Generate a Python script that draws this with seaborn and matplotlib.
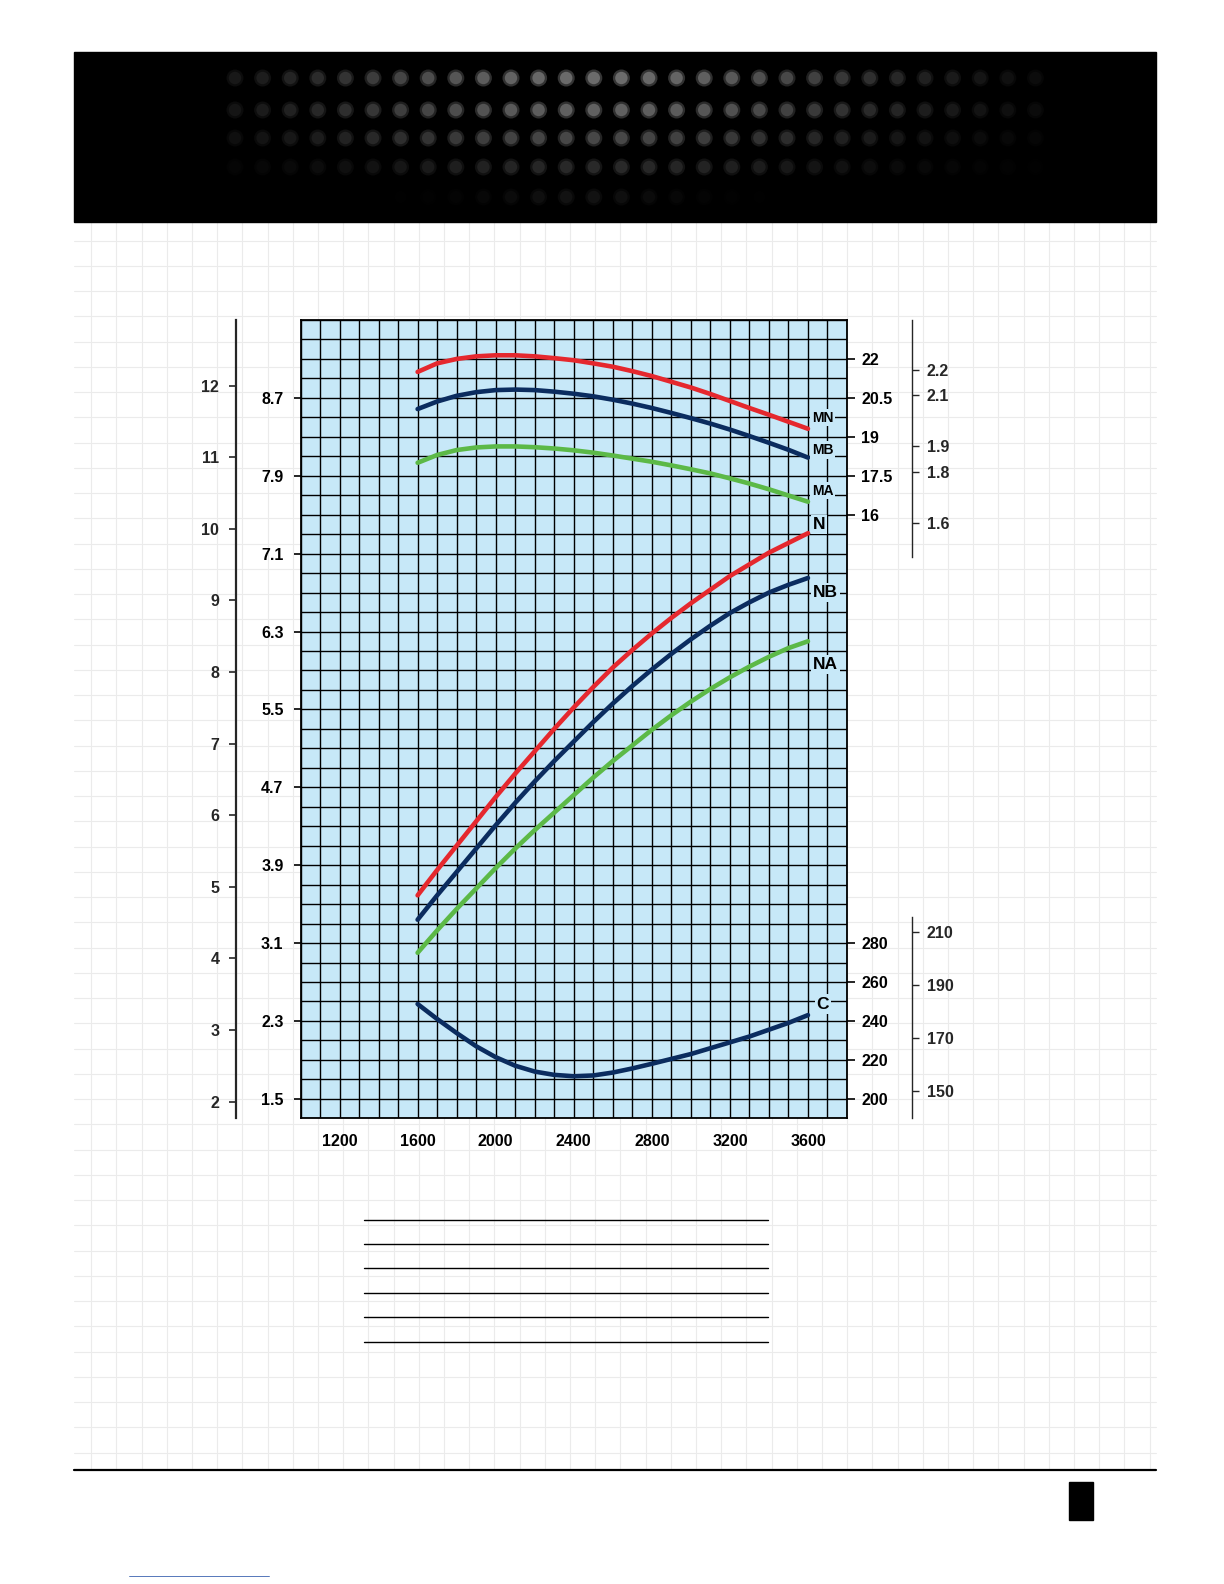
import numpy as np
import pandas as pd
import matplotlib
matplotlib.use("Agg")
import matplotlib.pyplot as plt
import seaborn as sns
from matplotlib.patches import Rectangle
from matplotlib.ticker import FixedLocator

# ---------------- data ----------------
rpm = [1600, 1700, 1800, 1900, 2000, 2100, 2200, 2300, 2400, 2500, 2600,
       2700, 2800, 2900, 3000, 3100, 3200, 3300, 3400, 3500, 3600]

# power curves (kW)
power_N = [3.59, 3.85, 4.10, 4.35, 4.60, 4.84, 5.07, 5.30, 5.52, 5.73, 5.93,
           6.11, 6.28, 6.44, 6.59, 6.73, 6.87, 6.99, 7.11, 7.21, 7.31]
power_NB = [3.34, 3.59, 3.83, 4.07, 4.31, 4.54, 4.76, 4.97, 5.17, 5.37, 5.56,
            5.74, 5.91, 6.07, 6.22, 6.36, 6.49, 6.60, 6.70, 6.78, 6.85]
power_NA = [3.00, 3.23, 3.45, 3.66, 3.87, 4.07, 4.26, 4.44, 4.62, 4.80, 4.97,
            5.13, 5.29, 5.44, 5.58, 5.71, 5.83, 5.94, 6.04, 6.13, 6.20]

# torque curves (N·m)
torque_MN = [21.50, 21.83, 22.00, 22.10, 22.14, 22.14, 22.10, 22.03, 21.95, 21.83, 21.70,
             21.53, 21.34, 21.12, 20.90, 20.65, 20.38, 20.11, 19.85, 19.58, 19.31]
torque_MB = [20.07, 20.36, 20.58, 20.72, 20.80, 20.82, 20.80, 20.74, 20.66, 20.56, 20.43,
             20.28, 20.11, 19.92, 19.72, 19.51, 19.28, 19.03, 18.77, 18.50, 18.20]
torque_MA = [18.00, 18.30, 18.49, 18.59, 18.63, 18.63, 18.60, 18.55, 18.48, 18.39, 18.28,
             18.16, 18.04, 17.90, 17.75, 17.59, 17.40, 17.20, 16.98, 16.74, 16.50]

# specific fuel consumption (g/kWh)
consumption_C = [248.7, 241.0, 233.8, 227.0, 221.4, 217.0, 214.0, 212.3, 211.6, 212.0, 213.5,
                 215.6, 218.0, 220.5, 223.0, 226.0, 229.0, 232.0, 235.5, 239.0, 243.0]

x_ticks = [1200, 1400, 1600, 1800, 2000, 2200, 2400, 2600, 2800, 3000, 3200, 3400, 3600, 3800]
x_tick_labels = ["1200", "", "1600", "", "2000", "", "2400", "", "2800", "", "3200", "", "3600", ""]
kw_ticks = [1.5, 2.3, 3.1, 3.9, 4.7, 5.5, 6.3, 7.1, 7.9, 8.7]
kw_tick_labels = ["1.5", "2.3", "3.1", "3.9", "4.7", "5.5", "6.3", "7.1", "7.9", "8.7"]
cv_ticks = [2, 3, 4, 5, 6, 7, 8, 9, 10, 11, 12]
cv_tick_labels = ["2", "3", "4", "5", "6", "7", "8", "9", "10", "11", "12"]
nm_ticks = [16, 17.5, 19, 20.5, 22]
nm_tick_labels = ["16", "17.5", "19", "20.5", "22"]
kgm_ticks = [1.6, 1.8, 1.9, 2.1, 2.2]
kgm_tick_labels = ["1.6", "1.8", "1.9", "2.1", "2.2"]
gkwh_ticks = [200, 220, 240, 260, 280]
gkwh_tick_labels = ["200", "220", "240", "260", "280"]
gcvh_ticks = [150, 170, 190, 210]
gcvh_tick_labels = ["150", "170", "190", "210"]

# unit conversions
KW_TO_CV = 1.3596
G0 = 9.80665          # N·m per kgf·m
KWH_TO_CVH = 0.7355   # g/kWh -> g/CVh

# ---------------- style ----------------
sns.set_style("white")
plt.rcParams["font.family"] = ["Liberation Sans", "DejaVu Sans"]
plt.rcParams["font.weight"] = "bold"

BLUE = "#c7e8f8"
RED = "#e5282e"
NAVY = "#0b2c5f"
GREEN = "#5cb947"
TICK_FS = 11.5

W, H = 1224, 1584
fig = plt.figure(figsize=(W / 100, H / 100), dpi=100)
fig.patch.set_facecolor("white")

# ---------------- page decoration ----------------
bg = fig.add_axes([0, 0, 1, 1])
bg.set_xlim(0, W)
bg.set_ylim(H, 0)
bg.axis("off")
bg.set_zorder(0)

# faint page grid
for xv in np.arange(91.1, 1156, 25.2):
    bg.plot([xv, xv], [222, 1468], color="#ebebeb", lw=0.8, zorder=0)
for yv in np.arange(240.7, 1468, 25.25):
    bg.plot([74, 1156], [yv, yv], color="#ebebeb", lw=0.8, zorder=0)

# black header with grille dots
bg.add_patch(Rectangle((73.5, 52), 1156 - 73.5, 221.7 - 52, color="black", zorder=2))
grille_x = np.arange(235, 1040, 27.6)
grille_rows = [(78, 0.42, 600, 210), (110, 0.38, 600, 210), (138, 0.28, 590, 200),
               (167, 0.16, 600, 180), (197, 0.07, 580, 70)]
for gy, peak, cx, sig in grille_rows:
    b = peak * np.exp(-0.5 * ((grille_x - cx) / sig) ** 2)
    cols_soft = [(v * 0.5, v * 0.5, v * 0.5) for v in b]
    cols = [(v, v, v) for v in b]
    bg.scatter(grille_x, np.full_like(grille_x, gy), s=150, c=cols_soft, marker="o",
               linewidths=0, zorder=3)
    bg.scatter(grille_x, np.full_like(grille_x, gy), s=80, c=cols, marker="o",
               linewidths=0, zorder=4)

# rule lines below the chart
for yv in [1219.5, 1243.9, 1268.3, 1292.7, 1317.1, 1341.5]:
    bg.plot([364, 768], [yv, yv], color="black", lw=1.0, zorder=2)

# footer
bg.plot([73.5, 1156], [1469.5, 1469.5], color="black", lw=1.6, zorder=2)
bg.add_patch(Rectangle((1069, 1482), 24, 38, color="black", zorder=2))
bg.plot([129, 269], [1576, 1576], color="#3a62b0", lw=0.6, zorder=2)

# ---------------- main chart ----------------
L, R, T, B = 300.5, 847.0, 320.0, 1118.3
ax = fig.add_axes([L / W, 1 - B / H, (R - L) / W, (B - T) / H])
ax.set_zorder(1)
ax.set_facecolor(BLUE)

ax_c = ax.twinx()
ax_c.set_zorder(2)
ax_t = ax.twinx()
ax_t.set_zorder(3)

df = pd.DataFrame({"rpm": rpm, "N": power_N, "NB": power_NB, "NA": power_NA,
                   "MN": torque_MN, "MB": torque_MB, "MA": torque_MA, "C": consumption_C})

line_kw = dict(linewidth=3.3, solid_capstyle="round", legend=False, errorbar=None)
sns.lineplot(data=df, x="rpm", y="N", ax=ax, color=RED, **line_kw)
sns.lineplot(data=df, x="rpm", y="NB", ax=ax, color=NAVY, **line_kw)
sns.lineplot(data=df, x="rpm", y="NA", ax=ax, color=GREEN, **line_kw)
sns.lineplot(data=df, x="rpm", y="MN", ax=ax_t, color=RED, **line_kw)
sns.lineplot(data=df, x="rpm", y="MB", ax=ax_t, color=NAVY, **line_kw)
sns.lineplot(data=df, x="rpm", y="MA", ax=ax_t, color=GREEN, **line_kw)
sns.lineplot(data=df, x="rpm", y="C", ax=ax_c, color=NAVY, **line_kw)

KW_LO, KW_HI = 1.3, 9.5


def kw_to_nm(v):
    return 20.5 + (v - 8.7) * 3.75


def kw_to_g(v):
    return 200 + (v - 1.5) * 50


ax.set_xlim(1000, 3800)
ax.set_ylim(KW_LO, KW_HI)
ax_t.set_ylim(kw_to_nm(KW_LO), kw_to_nm(KW_HI))
ax_c.set_ylim(kw_to_g(KW_LO), kw_to_g(KW_HI))

for a in (ax, ax_t, ax_c):
    a.set_xlabel("")
    a.set_ylabel("")

# grid
ax.set_xticks(x_ticks, x_tick_labels)
ax.set_yticks(kw_ticks, kw_tick_labels)
ax.xaxis.set_minor_locator(FixedLocator(np.arange(1000, 3801, 100)))
ax.yaxis.set_minor_locator(FixedLocator(np.arange(KW_LO, KW_HI + 0.01, 0.2)))
ax.grid(which="both", color="black", linewidth=1.0)
ax.set_axisbelow(True)
ax.tick_params(which="minor", length=0)
ax.tick_params(which="major", direction="out", length=5.2, width=1.2,
               labelsize=TICK_FS, colors="black")
ax.tick_params(axis="y", pad=7, right=False)
ax.tick_params(axis="x", pad=6)
for s in ax.spines.values():
    s.set_visible(True)
    s.set_linewidth(1.3)
    s.set_color("black")

for a, ticks, labels in ((ax_t, nm_ticks, nm_tick_labels), (ax_c, gkwh_ticks, gkwh_tick_labels)):
    a.set_yticks(ticks, labels)
    a.tick_params(axis="y", direction="out", length=5.5, width=1.2, pad=4.8,
                  labelsize=TICK_FS, colors="black")
    for s in a.spines.values():
        s.set_visible(False)

# outer left: CV
sec_cv = ax.secondary_yaxis(-0.118, functions=(lambda v: v * KW_TO_CV, lambda u: u / KW_TO_CV))
sec_cv.set_yticks(cv_ticks, cv_tick_labels)
sec_cv.tick_params(direction="out", length=4.8, width=1.2, pad=7.2, labelsize=TICK_FS)
sec_cv.spines["left"].set_linewidth(1.6)

# outer right top: kgm
sec_kgm = ax_t.secondary_yaxis(1.1184, functions=(lambda t: t / G0, lambda k: k * G0))
sec_kgm.set_yticks(kgm_ticks, kgm_tick_labels)
sec_kgm.tick_params(direction="out", length=5.0, width=1.0, pad=5.8, labelsize=TICK_FS)
sec_kgm.spines["right"].set_linewidth(1.0)
sec_kgm.spines["right"].set_bounds(kw_to_nm(7.069) / G0, kw_to_nm(KW_HI) / G0)

# outer right bottom: g/CVh
sec_gcv = ax_c.secondary_yaxis(1.1184, functions=(lambda g: g * KWH_TO_CVH, lambda h: h / KWH_TO_CVH))
sec_gcv.set_yticks(gcvh_ticks, gcvh_tick_labels)
sec_gcv.tick_params(direction="out", length=5.0, width=1.0, pad=5.8, labelsize=TICK_FS)
sec_gcv.spines["right"].set_linewidth(1.0)
sec_gcv.spines["right"].set_bounds(kw_to_g(KW_LO) * KWH_TO_CVH, kw_to_g(3.367) * KWH_TO_CVH)

# curve labels
box = dict(boxstyle="square,pad=0.12", fc=BLUE, ec="none")
lab = dict(ha="left", va="center", bbox=box, zorder=5, fontweight="bold", color="black")
ax_t.text(3620, 19.74, "MN", fontsize=10, **lab)
ax_t.text(3620, 18.49, "MB", fontsize=10, **lab)
ax_t.text(3620, 16.93, "MA", fontsize=10, **lab)
ax.text(3625, 7.40, "N", fontsize=12.5, **lab)
ax.text(3625, 6.70, "NB", fontsize=12.5, **lab)
ax.text(3625, 5.96, "NA", fontsize=12.5, **lab)
ax_c.text(3645, 248.7, "C", fontsize=12.5, **lab)

fig.savefig("out.png", dpi=100)
